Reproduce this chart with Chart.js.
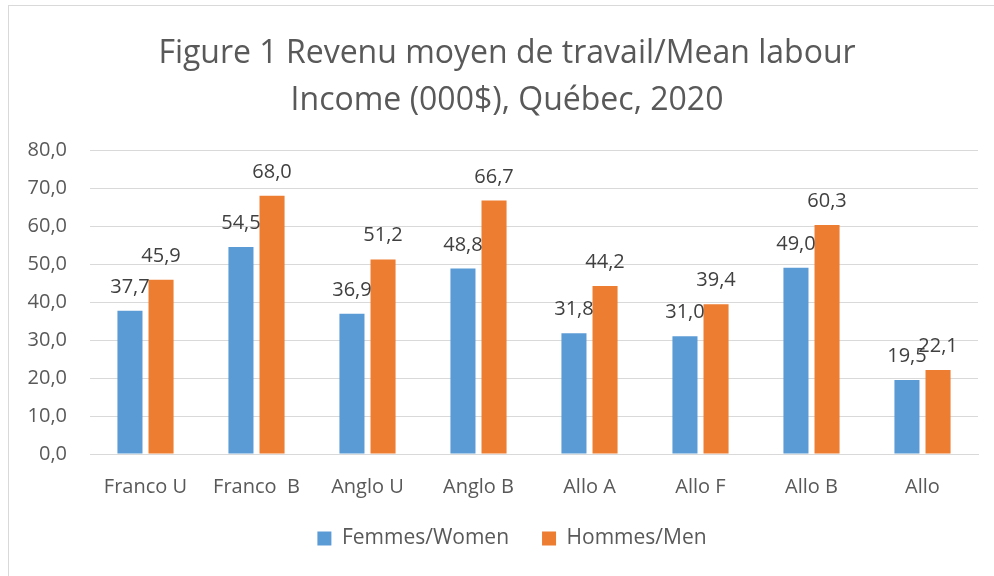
<!DOCTYPE html>
<html>
<head>
<meta charset="utf-8">
<script src="https://cdn.jsdelivr.net/npm/chart.js@4.4.1/dist/chart.umd.min.js"></script>
<style>
  body { margin: 0; background: #fff; }
  #wrap { position: relative; width: 994px; height: 576px; overflow: hidden; }
  #frame { position: absolute; left: 8px; top: 5px; width: 1000px; height: 600px; border: 1px solid #d9d9d9; }
  canvas { position: absolute; left: 0; top: 0; }
</style>
</head>
<body>
<div id="wrap">
  <div id="frame"></div>
  <canvas id="chart" width="994" height="576"></canvas>
</div>
<script>
var categories = ['Franco U', 'Franco  B', 'Anglo U', 'Anglo B', 'Allo A', 'Allo F', 'Allo B', 'Allo']
var femmes = [37.7, 54.5, 36.9, 48.8, 31.8, 31.0, 49.0, 19.5]
var hommes = [45.9, 68.0, 51.2, 66.7, 44.2, 39.4, 60.3, 22.1]
var titleLines = ['Figure 1 Revenu moyen de travail/Mean labour', 'Income (000$), Québec, 2020']

var fontFam = "'Open Sans', 'Liberation Sans', sans-serif"
var textCol = '#595959'

var fmt = (v) => v.toFixed(1).replace('.', ',')

// labels au-dessus des barres
var valueLabels = {
  id: 'valueLabels',
  afterDatasetsDraw: (chart) => {
    var ctx = chart.ctx
    ctx.save()
    ctx.font = '20px ' + fontFam
    ctx.fillStyle = '#404040'
    ctx.textAlign = 'center'
    ctx.textBaseline = 'alphabetic'
    chart.data.datasets.forEach((ds, i) => {
      chart.getDatasetMeta(i).data.forEach((bar, j) => {
        ctx.fillText(fmt(ds.data[j]), bar.x, bar.y - 18)
      })
    })
    ctx.restore()
  }
}

// titre et legende un peu decales dans l'original
var boxShift = {
  id: 'boxShift',
  afterLayout: (chart) => {
    chart.legend.left += 23
    chart.legend.right += 23
    chart.legend.top -= 17
    chart.legend.bottom -= 17
    chart.titleBlock.left += 18
    chart.titleBlock.right += 18
  }
}

new Chart(document.getElementById('chart'), {
  type: 'bar',
  data: {
    labels: categories,
    datasets: [
      { label: 'Femmes/Women', data: femmes, backgroundColor: '#5B9BD5' },
      { label: 'Hommes/Men', data: hommes, backgroundColor: '#ED7D31' }
    ]
  },
  options: {
    responsive: false,
    animation: false,
    datasets: { bar: { barPercentage: 0.806, categoryPercentage: 0.56 } },
    layout: { padding: { left: 0, right: 16, top: 30, bottom: 0 } },
    plugins: {
      title: {
        display: true,
        text: titleLines,
        color: textCol,
        font: { family: fontFam, size: 32, weight: 'normal', lineHeight: 1.47 },
        padding: { top: 0, bottom: 26 }
      },
      legend: {
        position: 'bottom',
        labels: {
          color: textCol,
          font: { family: fontFam, size: 21 },
          boxWidth: 14,
          boxHeight: 14,
          padding: 33
        }
      },
      tooltip: { enabled: false }
    },
    scales: {
      x: {
        grid: { display: false },
        border: { color: '#d9d9d9', width: 1 },
        ticks: { color: textCol, font: { family: fontFam, size: 20 }, padding: 13, maxRotation: 0, autoSkip: false }
      },
      y: {
        min: 0,
        max: 80,
        grid: { color: '#d9d9d9', drawTicks: false },
        border: { display: false },
        ticks: { stepSize: 10, color: textCol, font: { family: fontFam, size: 20 }, padding: 23, callback: (v) => fmt(v) },
        afterFit: (scale) => { scale.width = 90 }
      }
    }
  },
  plugins: [valueLabels, boxShift]
})
</script>
</body>
</html>
